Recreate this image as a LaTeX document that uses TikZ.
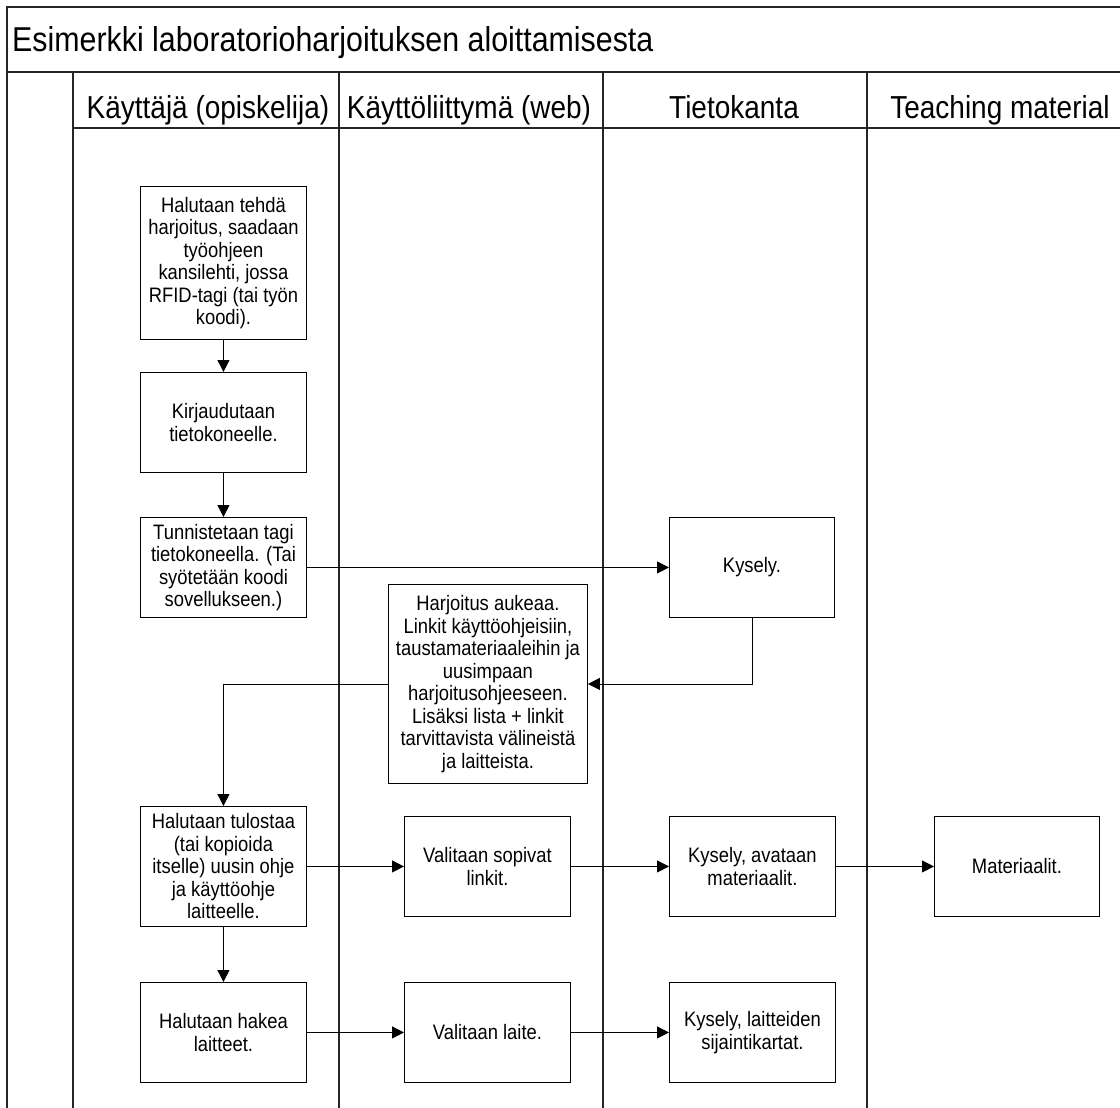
\documentclass[tikz,border=0pt]{standalone}
\usepackage{fontspec}
\setmainfont[FakeStretch=0.88]{Liberation Sans}
\usetikzlibrary{arrows.meta}
\begin{document}
\begin{tikzpicture}[x=1pt,y=-1pt,
  frame/.style={line width=1.2pt,draw=black!85},
  stepbox/.style={draw,line width=0.9pt,inner sep=0pt,align=center,anchor=north west,
    font=\fontsize{20.9}{22.5}\selectfont},
  lanehead/.style={anchor=base,inner sep=0pt,font=\fontsize{31.8}{36}\selectfont},
  flow/.style={line width=0.8pt,-{Triangle[length=12pt,width=12pt]}}]
\useasboundingbox (0,0) rectangle (1120,1108);
% pool frame and lane dividers
\draw[frame] (7,1108) -- (7,7) -- (1120,7);
\draw[frame] (7,72) -- (1120,72);
\draw[frame] (73,128) -- (1120,128);
\foreach \lx in {73,339,603,867} \draw[frame] (\lx,72) -- (\lx,1108);
% pool title and lane titles
\node[anchor=base west,inner sep=0pt,font=\fontsize{34.5}{38}\selectfont] (title) at (12,52) {Esimerkki laboratorioharjoituksen aloittamisesta};
\node[lanehead] (h1) at (208,118) {Käyttäjä (opiskelija)};
\node[lanehead] (h2) at (469,118) {Käyttöliittymä (web)};
\node[lanehead] (h3) at (734,118) {Tietokanta};
\node[lanehead] (h4) at (1000,118) {Teaching material};
% steps
\node[stepbox,minimum width=166pt,minimum height=153pt] (b1) at (140,186)
  {Halutaan tehdä\\harjoitus, saadaan\\työohjeen\\kansilehti, jossa\\RFID-tagi (tai työn\\koodi).};
\node[stepbox,minimum width=166pt,minimum height=100pt] (b2) at (140,372)
  {Kirjaudutaan\\tietokoneelle.};
\node[stepbox,minimum width=166pt,minimum height=100pt] (b3) at (140,517)
  {Tunnistetaan tagi\\tietokoneella. (Tai\\syötetään koodi\\sovellukseen.)};
\node[stepbox,minimum width=165pt,minimum height=100pt] (k1) at (669,517)
  {Kysely.};
\node[stepbox,minimum width=199pt,minimum height=199pt] (hj) at (388,584)
  {Harjoitus aukeaa.\\Linkit käyttöohjeisiin,\\taustamateriaaleihin ja\\uusimpaan\\harjoitusohjeeseen.\\Lisäksi lista + linkit\\tarvittavista välineistä\\ja laitteista.};
\node[stepbox,minimum width=166pt,minimum height=120pt] (b4) at (140,806)
  {Halutaan tulostaa\\(tai kopioida\\itselle) uusin ohje\\ja käyttöohje\\laitteelle.};
\node[stepbox,minimum width=166pt,minimum height=100pt] (vs) at (404,816)
  {Valitaan sopivat\\linkit.};
\node[stepbox,minimum width=166pt,minimum height=100pt] (ka) at (669,816)
  {Kysely, avataan\\materiaalit.};
\node[stepbox,minimum width=165pt,minimum height=100pt] (ma) at (934,816)
  {Materiaalit.};
\node[stepbox,minimum width=166pt,minimum height=100pt] (b5) at (140,982)
  {Halutaan hakea\\laitteet.};
\node[stepbox,minimum width=166pt,minimum height=100pt] (vl) at (404,982)
  {Valitaan laite.};
\node[stepbox,minimum width=166pt,minimum height=100pt] (kl) at (669,982)
  {Kysely, laitteiden\\sijaintikartat.};
% connectors
\draw[flow] (b1) -- (b2);
\draw[flow] (b2) -- (b3);
\draw[flow] (b3.east) -- (b3.east -| k1.west);
\draw[flow] (k1.south) |- (hj.east);
\draw[flow] (hj.west) -| (b4.north);
\draw[flow] (b4.east) -- (b4.east -| vs.west);
\draw[flow] (vs) -- (ka);
\draw[flow] (ka) -- (ma);
\draw[flow] (b4) -- (b5);
\draw[flow] (b5) -- (vl);
\draw[flow] (vl) -- (kl);
\end{tikzpicture}
\end{document}
